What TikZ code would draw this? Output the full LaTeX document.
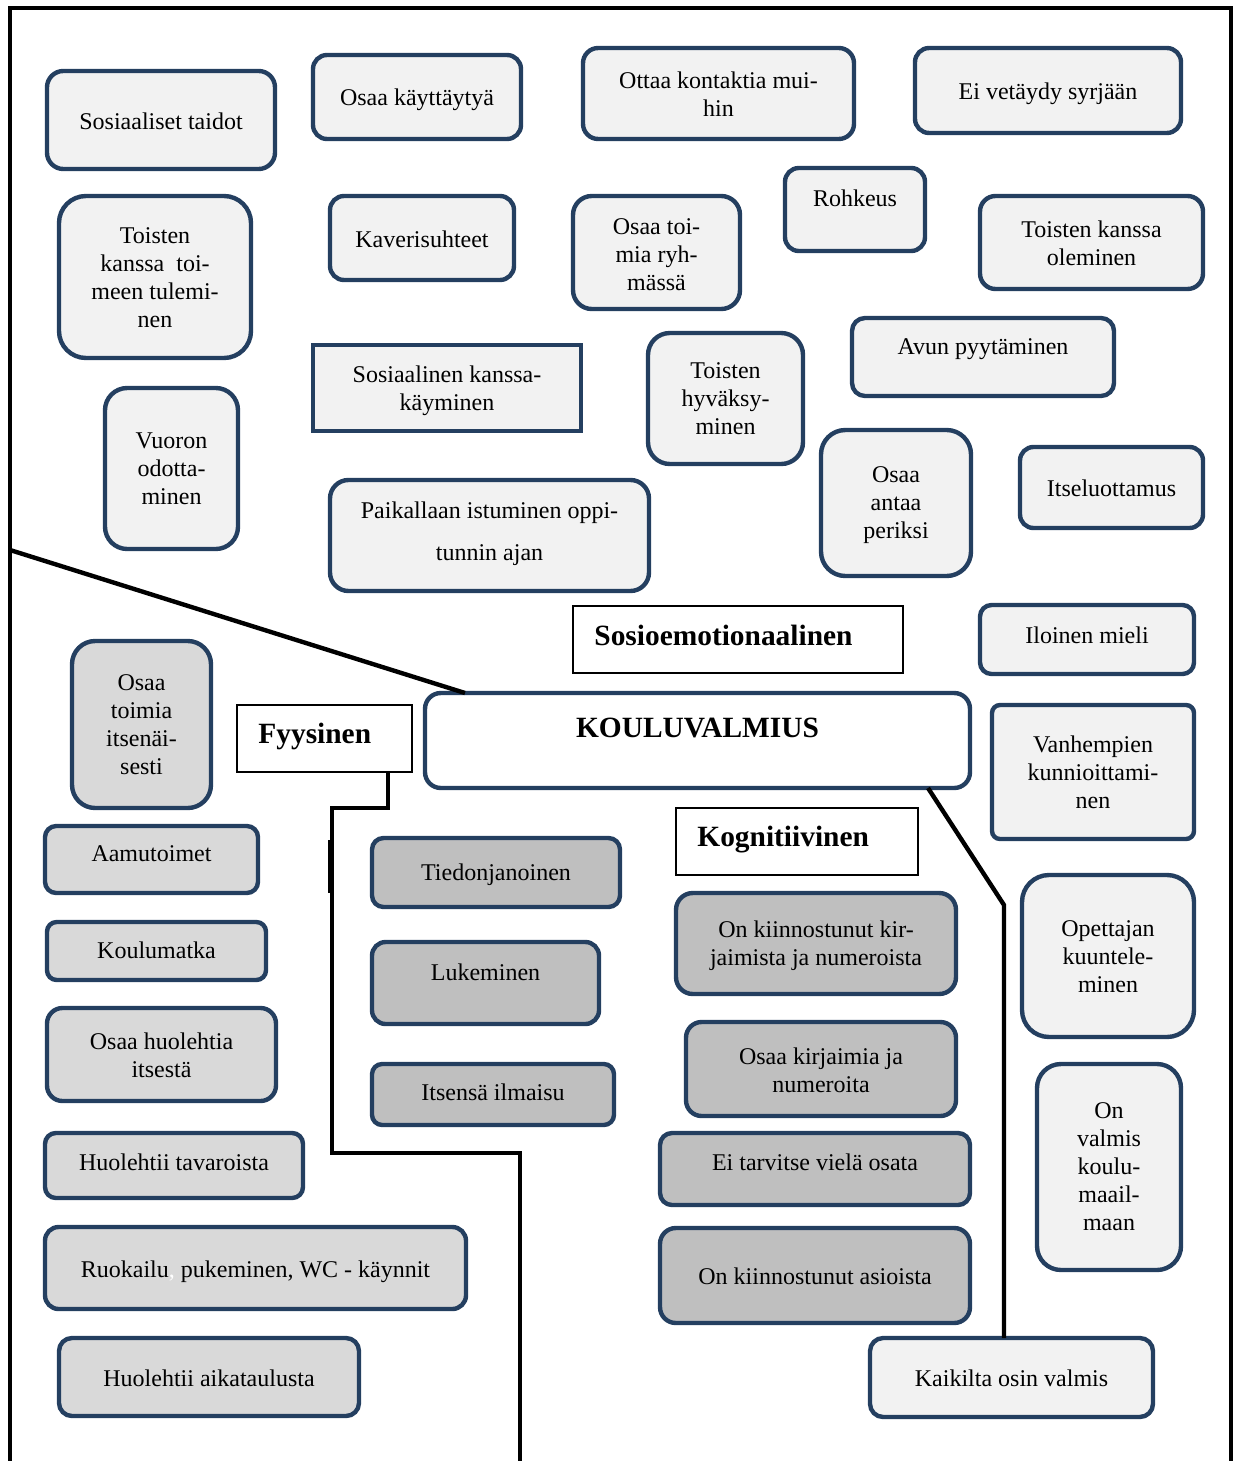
\documentclass[tikz,border=0pt]{standalone}
\usepackage{fontspec}
\setmainfont{Liberation Serif}
\definecolor{bd}{HTML}{243F60}
\definecolor{csoc}{HTML}{F2F2F2}
\definecolor{cphy}{HTML}{D9D9D9}
\definecolor{ccog}{HTML}{BFBFBF}
\newcommand\kst{\rule[-0.1667em]{0pt}{0.825em}}
\newcommand\kbx[8]{%
  \pgfmathsetmacro\kbr{min(#5-#3,#6-#4)/6*0.5}%
  \node[bx, rounded corners=\kbr pt, #2, minimum width={(#5-#3)*0.5pt}, minimum height={(#6-#4)*0.5pt}] (#1) at ({(#3+#5)/2},{(#4+#6)/2}) {};
  \node[txt] (#1-t) at ({(#3+#5)/2},#7) {#8};
}
\tikzset{
  bx/.style={draw=bd, line width=2.2pt, inner sep=0pt, outer sep=0pt},
  soc/.style={fill=csoc},
  phy/.style={fill=cphy},
  cog/.style={fill=ccog},
  mainb/.style={fill=white},
  txt/.style={inner sep=0pt, align=center, font=\fontsize{12}{14}\selectfont, yshift=-1pt,
    execute at begin node=\kst, execute at end node=\kst},
  hd/.style={draw=black, line width=0.8pt, fill=white, inner sep=0pt},
  hdt/.style={inner sep=0pt, anchor=west, yshift=-0.5pt, font=\fontsize{14.7}{17}\selectfont\bfseries, text height=9.73pt, text depth=0pt},
  ln/.style={draw=black, line width=2.2pt},
}
\begin{document}
\begin{tikzpicture}[x=0.5pt, y=-0.5pt]
\useasboundingbox (0,0) rectangle (1239,1461);
% frame
\coordinate (fl) at (10,1470);
\coordinate (fr) at (1231,1470);
\draw[ln, line width=2pt] (fl) -- (10,8) -- (1231,8) -- (fr);

% socio-emotional boxes
\kbx{st}{soc}{47}{71}{275}{169}{121}{Sosiaaliset taidot}
\kbx{ok}{soc}{313}{55}{521}{139}{98}{Osaa käyttäytyä}
\kbx{ot}{soc}{583}{48}{854}{139}{94}{Ottaa kontaktia mui-\\hin}
\kbx{ev}{soc}{915}{48}{1181}{133}{92}{Ei vetäydy syrjään}
\kbx{tk}{soc}{59}{196}{251}{358}{278}{Toisten\\kanssa\ \ toi-\\meen tulemi-\\nen}
\kbx{ks}{soc}{330}{196}{514}{280}{239}{Kaverisuhteet}
\kbx{otr}{soc}{573}{196}{740}{309}{255}{Osaa toi-\\mia ryh-\\mässä}
\kbx{ro}{soc}{785}{168}{925}{251}{198}{Rohkeus}
\kbx{tko}{soc}{980}{196}{1203}{289}{243}{Toisten kanssa\\oleminen}
\kbx{sk}{soc,sharp corners}{313}{345}{581}{431}{388.5}{Sosiaalinen kanssa-\\käyminen}
\kbx{th}{soc}{648}{333}{803}{464}{399}{Toisten\\hyväksy-\\minen}
\kbx{ap}{soc}{852}{318}{1114}{396}{347}{Avun pyytäminen}
\kbx{vo}{soc}{105}{388}{238}{549}{469}{Vuoron\\odotta-\\minen}
\kbx{pi}{soc}{330}{480}{649}{591}{532}{Paikallaan istuminen oppi-\\[7pt]tunnin ajan}
\kbx{oa}{soc}{821}{430}{971}{576}{503}{Osaa\\antaa\\periksi}
\kbx{it}{soc}{1020}{447}{1203}{528}{488}{Itseluottamus}
\kbx{il}{soc}{980}{605}{1194}{674}{635}{Iloinen mieli}
\kbx{va}{soc,rounded corners=4pt}{992}{705}{1194}{839}{772}{Vanhempien\\kunnioittami-\\nen}
\kbx{op}{soc}{1022}{875}{1194}{1037}{957}{Opettajan\\kuuntele-\\minen}
\kbx{vm}{soc}{1037}{1064}{1181}{1270}{1167}{On\\valmis\\koulu-\\maail-\\maan}
\kbx{kv}{soc}{870}{1338}{1153}{1417}{1378}{Kaikilta osin valmis}

% central box
\kbx{kou}{mainb}{425}{693}{970}{788}{728}{\fontsize{14.7}{17}\selectfont\bfseries KOULUVALMIUS}

% physical boxes
\kbx{ti}{phy}{72}{641}{211}{808}{725}{Osaa\\toimia\\itsenäi-\\sesti}
\kbx{am}{phy}{45}{826}{258}{893}{854}{Aamutoimet}
\kbx{km}{phy}{47}{922}{266}{980}{950}{Koulumatka}
\kbx{oh}{phy}{47}{1008}{276}{1101}{1055}{Osaa huolehtia\\itsestä}
\kbx{ht}{phy}{45}{1133}{303}{1198}{1162}{Huolehtii tavaroista}
\kbx{ru}{phy}{45}{1227}{466}{1309}{1270}{Ruokailu{\color{white},} pukeminen, WC - käynnit}
\kbx{ha}{phy}{59}{1338}{359}{1416}{1378}{Huolehtii aikataulusta}

% cognitive boxes
\kbx{tj}{cog}{372}{838}{620}{907}{873}{Tiedonjanoinen}
\kbx{lu}{cog}{372}{942}{599}{1024}{972}{Lukeminen}
\kbx{is}{cog}{372}{1064}{614}{1125}{1092}{Itsensä ilmaisu}
\kbx{kk}{cog}{676}{893}{956}{994}{944}{On kiinnostunut kir-\\jaimista ja numeroista}
\kbx{kn}{cog}{686}{1022}{956}{1116}{1070}{Osaa kirjaimia ja\\numeroita}
\kbx{et}{cog}{660}{1133}{970}{1205}{1162}{Ei tarvitse vielä osata}
\kbx{ka}{cog}{660}{1228}{970}{1323}{1276}{On kiinnostunut asioista}

% heading boxes
\node[hd, minimum width=165pt, minimum height=33.5pt] (hsos) at (738,639.5) {};
\node[hdt] (hsos-t) at (594,635) {Sosioemotionaalinen};
\node[hd, minimum width=87.5pt, minimum height=33.5pt] (hfy) at (324.5,738.5) {};
\node[hdt] (hfy-t) at (258,733) {Fyysinen};
\node[hd, minimum width=121pt, minimum height=33.5pt] (hko) at (797,841.5) {};
\node[hdt] (hko-t) at (697,836) {Kognitiivinen};

% connectors
\coordinate (dstart) at (10,550);
\draw[ln] (dstart) -- ([xshift=20pt]kou.north west);
\coordinate (fyend) at (520,1470);
\draw[ln, line join=miter] ([xshift=-12.5pt]hfy.south east) |- (332,808) |- (520,1153) -- (fyend);
\coordinate (jogA) at (329.5,840);
\coordinate (jogB) at (329.5,893);
\draw[line width=1.6pt] (jogA) -- (jogB);
\draw[ln, line join=miter] ([xshift=-21pt]kou.south east) -- (1004,905) -- ([xshift=-3.75pt]kv.north);
\end{tikzpicture}
\end{document}
